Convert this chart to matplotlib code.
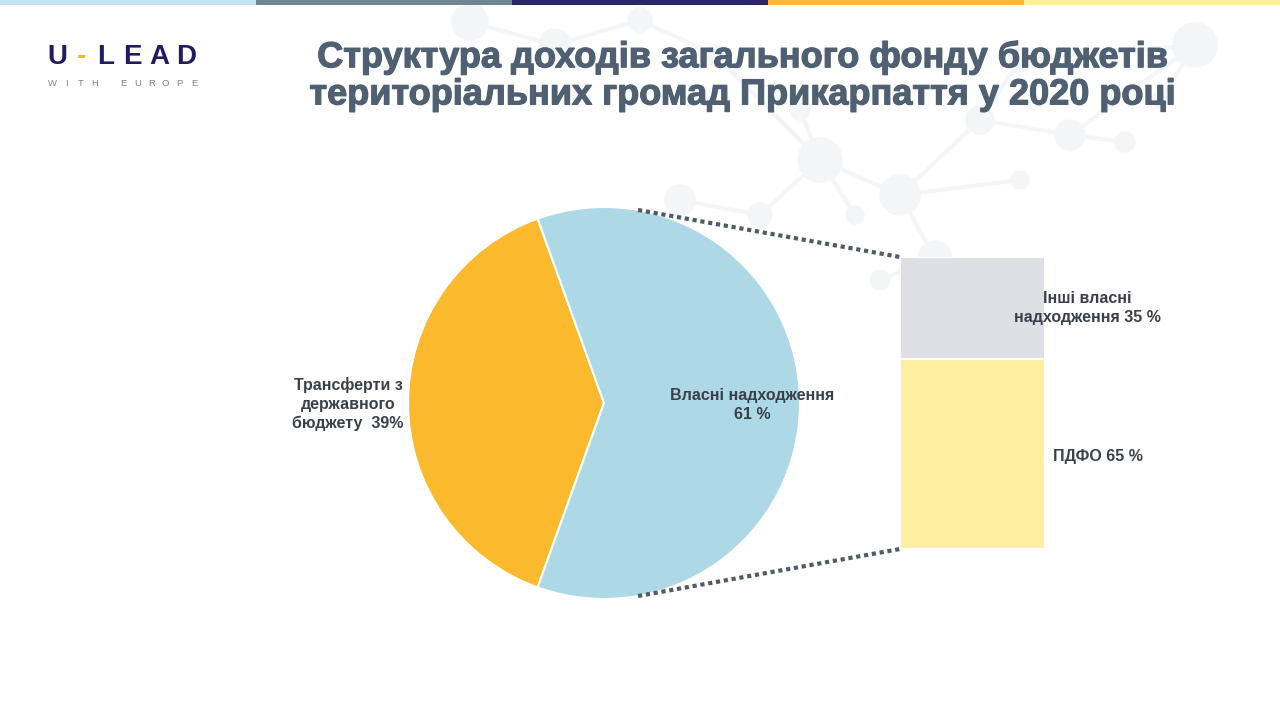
import matplotlib.pyplot as plt
import matplotlib.patheffects as pe
from matplotlib.patches import ConnectionPatch, Circle, Rectangle
import numpy as np

plt.rcParams['font.family'] = ['Liberation Sans', 'DejaVu Sans']

# data
pie_labels = ['Трансферти з\nдержавного\nбюджету', 'Власні надходження\n']
pie_values = [39, 61]
pie_colors = ['#fbb92e', '#add8e6']

bar_labels = ['ПДФО', 'Інші власні\nнадходження']
bar_values = [65, 35]
bar_colors = ['#feee9f', '#dcdfe3']

title = 'Структура доходів загального фонду бюджетів\nтериторіальних громад Прикарпаття у 2020 році'
top_colors = ['#bfe5f4', '#6f8593', '#2a2768', '#fbb93a', '#fdeea0']

W, H = 1280, 720
fig = plt.figure(figsize=(12.8, 7.2), dpi=100)
fig.patch.set_facecolor('white')

# background canvas in pixel coords (decoration)
bg = fig.add_axes([0, 0, 1, 1])
bg.set_xlim(0, W)
bg.set_ylim(H, 0)
bg.axis('off')

# faint molecule network in the background
nodes = [(470, 22, 18), (555, 45, 16), (640, 20, 12), (715, 55, 10), (820, 160, 22),
         (900, 195, 20), (980, 120, 14), (1070, 135, 15), (1125, 142, 10), (1195, 45, 22),
         (1020, 60, 12), (680, 200, 15), (760, 215, 12), (855, 215, 9), (935, 258, 17),
         (1010, 285, 16), (1020, 180, 9), (880, 280, 10), (1160, 100, 8), (800, 110, 10)]
edges = [(0, 1), (1, 2), (2, 3), (3, 4), (4, 5), (5, 6), (6, 7), (7, 8), (7, 9), (9, 10),
         (6, 10), (11, 12), (12, 4), (4, 13), (5, 14), (14, 15), (5, 16), (14, 17), (9, 18), (4, 19)]
mol = '#f4f5f7'
for a, b in edges:
    bg.plot([nodes[a][0], nodes[b][0]], [nodes[a][1], nodes[b][1]], color=mol, lw=3, zorder=0)
for x, y, r in nodes:
    bg.add_patch(Circle((x, y), r, color=mol, zorder=0))

# top colour stripe
for i, c in enumerate(top_colors):
    bg.add_patch(Rectangle((i * 256, 0), 256, 5, color=c, lw=0))

# logo
logo = ['U', '-', 'L', 'E', 'A', 'D']
logo_x = [57, 82, 106, 132, 159, 186]
for ch, x in zip(logo, logo_x):
    bg.text(x, 57, ch, color='#f8b522' if ch == '-' else '#1f1c63', fontsize=20,
            fontweight='bold', ha='center', va='center')
sub = 'WITH EUROPE'
for i, ch in enumerate(sub):
    bg.text(52 + i * 14.2, 84, ch, color='#7a8088', fontsize=6.8, ha='center', va='center')

# pie
cx, cy, r = 604, 403, 196
pax = fig.add_axes([(cx - r) / W, (H - cy - r) / H, 2 * r / W, 2 * r / H])
start = 180 - pie_values[0] * 3.6 / 2
pax.pie(pie_values, colors=pie_colors, startangle=start, counterclock=True,
        wedgeprops=dict(edgecolor='white', linewidth=1.5))
pax.set_xlim(-1, 1)
pax.set_ylim(-1, 1)
pax.axis('off')

# bar
bx0, bx1, by0, by1 = 900, 1045, 257, 549
bax = fig.add_axes([bx0 / W, (H - by1) / H, (bx1 - bx0) / W, (by1 - by0) / H])
bottom = 0
for v, c in zip(bar_values, bar_colors):
    bax.bar(0.5, v, width=1, bottom=bottom, color=c, edgecolor='white', linewidth=1.5)
    bottom += v
bax.set_xlim(0, 1)
bax.set_ylim(0, sum(bar_values))
bax.axis('off')

# connector lines
for ang, yb in [(80, sum(bar_values)), (-80, 0)]:
    p = (np.cos(np.radians(ang)), np.sin(np.radians(ang)))
    con = ConnectionPatch(xyA=p, coordsA=pax.transData, xyB=(0, yb), coordsB=bax.transData,
                          color='#4f5b66', lw=3, linestyle=(0, (1, 0.9)), capstyle='butt')
    fig.add_artist(con)

# overlay for text
fg = fig.add_axes([0, 0, 1, 1])
fg.set_xlim(0, W)
fg.set_ylim(H, 0)
fg.axis('off')
fg.patch.set_alpha(0)

# title
t = fg.text(742, 76, title, color='#4f6072', fontsize=26, fontweight='bold',
            ha='center', va='center', linespacing=1.08)
t.set_path_effects([pe.withStroke(linewidth=0.9, foreground='#4f6072')])

# labels
lab_col = '#3a404a'
fg.text(348, 404, f'{pie_labels[0]}  {pie_values[0]}%', color=lab_col, fontsize=11.5,
        fontweight='bold', ha='center', va='center', linespacing=1.3)
fg.text(752, 405, f'{pie_labels[1]}{pie_values[1]} %', color=lab_col, fontsize=11.5,
        fontweight='bold', ha='center', va='center', linespacing=1.3)
fg.text(1087, 308, f'{bar_labels[1]} {bar_values[1]} %', color=lab_col, fontsize=11.5,
        fontweight='bold', ha='center', va='center', linespacing=1.3)
fg.text(1053, 456, f'{bar_labels[0]} {bar_values[0]} %', color=lab_col, fontsize=11.5,
        fontweight='bold', ha='left', va='center')

fig.savefig('out.png', dpi=100, facecolor='white')
